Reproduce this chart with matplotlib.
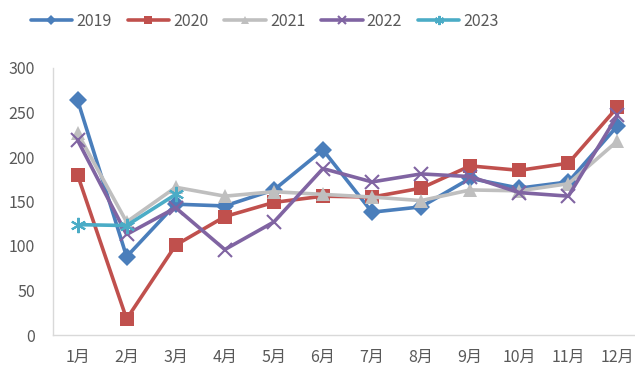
import matplotlib
matplotlib.use("Agg")
import matplotlib.pyplot as plt

plt.rcParams['font.family'] = ['Noto Sans CJK SC', 'DejaVu Sans']

months = ["1月", "2月", "3月", "4月", "5月", "6月", "7月", "8月", "9月", "10月", "11月", "12月"]
v2019 = [264, 88, 147, 145, 163, 208, 138, 144, 176, 165, 172, 235]
v2020 = [180, 18, 101, 133, 149, 156, 155, 165, 190, 185, 193, 256]
v2021 = [227, 127, 166, 156, 161, 158, 155, 151, 163, 162, 170, 218]
v2022 = [219, 113, 143, 96, 127, 187, 172, 181, 178, 160, 156, 247]
v2023 = [124, 123, 158]
y_ticks = [0, 50, 100, 150, 200, 250, 300]

series = [
    ("2019", v2019, "#4A7EBB", "D", 9),
    ("2020", v2020, "#C0504D", "s", 10.5),
    ("2021", v2021, "#BFBFBF", "^", 10.5),
    ("2022", v2022, "#8064A2", "x", 10),
    ("2023", v2023, "#4BACC6", (6, 2, 0), 11),
]

fig = plt.figure(figsize=(6.35, 3.70), dpi=100)
ax = fig.add_axes([53 / 635, 35 / 370, 589 / 635, 267 / 370])

for name, vals, color, marker, ms in series:
    x = list(range(len(vals)))
    kw = dict(color=color, lw=2.6, marker=marker, markersize=ms, label=name,
              solid_capstyle="round", solid_joinstyle="round")
    if marker in ("x",) or isinstance(marker, tuple):
        kw.update(markeredgewidth=1.5, markeredgecolor=color)
    else:
        kw.update(markeredgewidth=0, markerfacecolor=color)
    ax.plot(x, vals, **kw)

ax.set_xlim(-0.5, 11.5)
ax.set_ylim(0, 300)
ax.set_yticks(y_ticks)
ax.set_xticks(range(len(months)))
ax.set_xticklabels(months)
ax.tick_params(axis="both", length=0, labelsize=11.5, colors="#595959")
ax.tick_params(axis="x", pad=10)
ax.tick_params(axis="y", pad=13)
for s in ["top", "right"]:
    ax.spines[s].set_visible(False)
for s in ["left", "bottom"]:
    ax.spines[s].set_color("#D9D9D9")
    ax.spines[s].set_linewidth(1.0)

leg = fig.legend(loc="upper center", bbox_to_anchor=(0.417, 1.004), ncol=5, frameon=False,
                 fontsize=11.5, handlelength=2.6, columnspacing=1.0, handletextpad=0.25,
                 markerscale=0.6)
for t in leg.get_texts():
    t.set_color("#595959")

fig.savefig("out.png", dpi=100)
